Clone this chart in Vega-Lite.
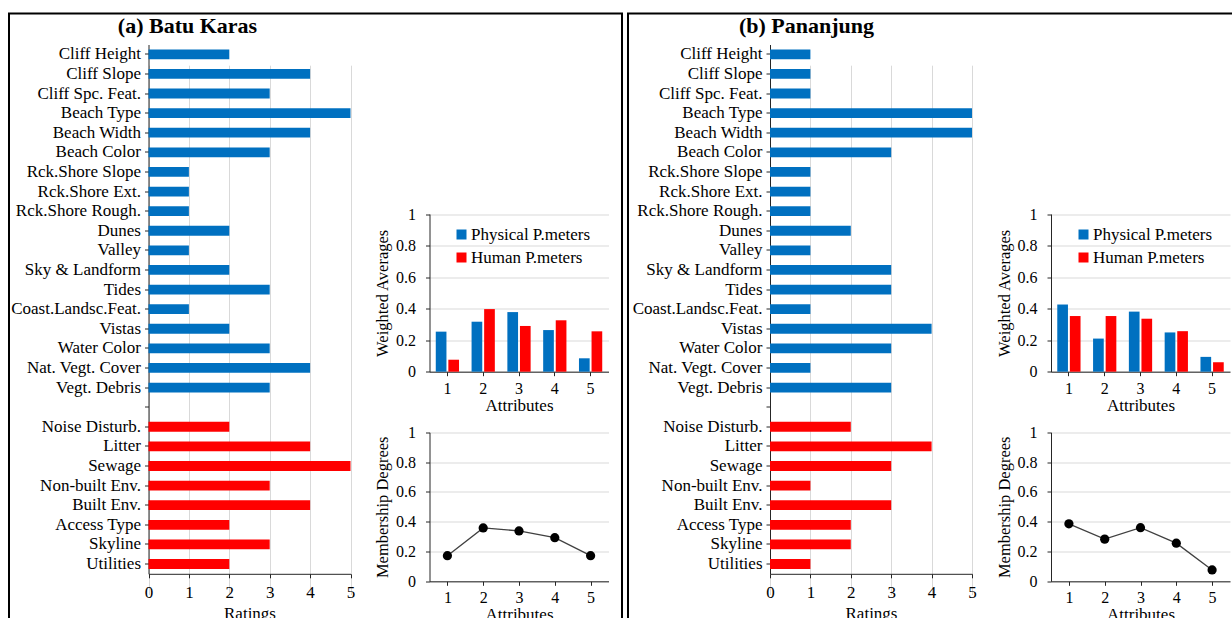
{
  "$schema": "https://vega.github.io/schema/vega-lite/v6.json",
  "background": "white",
  "padding": {"left": 8, "top": 12.5, "right": -10, "bottom": -9},
  "spacing": 4,
  "config": {
    "font": "Liberation Serif",
    "axis": {
      "labelFont": "Liberation Serif",
      "titleFont": "Liberation Serif",
      "labelColor": "#000000",
      "titleColor": "#000000",
      "titleFontWeight": "normal",
      "domainColor": "#262626",
      "tickColor": "#262626",
      "gridColor": "#d9d9d9",
      "tickSize": 4,
      "labelFlush": false,
      "labelOverlap": false
    },
    "legend": {"labelFont": "Liberation Serif"}
  },
  "datasets": {
    "ratings_a": [
      {"parameter": "Cliff Height", "group": "Physical P.meters", "rating": 2},
      {"parameter": "Cliff Slope", "group": "Physical P.meters", "rating": 4},
      {"parameter": "Cliff Spc. Feat.", "group": "Physical P.meters", "rating": 3},
      {"parameter": "Beach Type", "group": "Physical P.meters", "rating": 5},
      {"parameter": "Beach Width", "group": "Physical P.meters", "rating": 4},
      {"parameter": "Beach Color", "group": "Physical P.meters", "rating": 3},
      {"parameter": "Rck.Shore Slope", "group": "Physical P.meters", "rating": 1},
      {"parameter": "Rck.Shore Ext.", "group": "Physical P.meters", "rating": 1},
      {"parameter": "Rck.Shore Rough.", "group": "Physical P.meters", "rating": 1},
      {"parameter": "Dunes", "group": "Physical P.meters", "rating": 2},
      {"parameter": "Valley", "group": "Physical P.meters", "rating": 1},
      {"parameter": "Sky & Landform", "group": "Physical P.meters", "rating": 2},
      {"parameter": "Tides", "group": "Physical P.meters", "rating": 3},
      {"parameter": "Coast.Landsc.Feat.", "group": "Physical P.meters", "rating": 1},
      {"parameter": "Vistas", "group": "Physical P.meters", "rating": 2},
      {"parameter": "Water Color", "group": "Physical P.meters", "rating": 3},
      {"parameter": "Nat. Vegt. Cover", "group": "Physical P.meters", "rating": 4},
      {"parameter": "Vegt. Debris", "group": "Physical P.meters", "rating": 3},
      {"parameter": "Noise Disturb.", "group": "Human P.meters", "rating": 2},
      {"parameter": "Litter", "group": "Human P.meters", "rating": 4},
      {"parameter": "Sewage", "group": "Human P.meters", "rating": 5},
      {"parameter": "Non-built Env.", "group": "Human P.meters", "rating": 3},
      {"parameter": "Built Env.", "group": "Human P.meters", "rating": 4},
      {"parameter": "Access Type", "group": "Human P.meters", "rating": 2},
      {"parameter": "Skyline", "group": "Human P.meters", "rating": 3},
      {"parameter": "Utilities", "group": "Human P.meters", "rating": 2}
    ],
    "ratings_b": [
      {"parameter": "Cliff Height", "group": "Physical P.meters", "rating": 1},
      {"parameter": "Cliff Slope", "group": "Physical P.meters", "rating": 1},
      {"parameter": "Cliff Spc. Feat.", "group": "Physical P.meters", "rating": 1},
      {"parameter": "Beach Type", "group": "Physical P.meters", "rating": 5},
      {"parameter": "Beach Width", "group": "Physical P.meters", "rating": 5},
      {"parameter": "Beach Color", "group": "Physical P.meters", "rating": 3},
      {"parameter": "Rck.Shore Slope", "group": "Physical P.meters", "rating": 1},
      {"parameter": "Rck.Shore Ext.", "group": "Physical P.meters", "rating": 1},
      {"parameter": "Rck.Shore Rough.", "group": "Physical P.meters", "rating": 1},
      {"parameter": "Dunes", "group": "Physical P.meters", "rating": 2},
      {"parameter": "Valley", "group": "Physical P.meters", "rating": 1},
      {"parameter": "Sky & Landform", "group": "Physical P.meters", "rating": 3},
      {"parameter": "Tides", "group": "Physical P.meters", "rating": 3},
      {"parameter": "Coast.Landsc.Feat.", "group": "Physical P.meters", "rating": 1},
      {"parameter": "Vistas", "group": "Physical P.meters", "rating": 4},
      {"parameter": "Water Color", "group": "Physical P.meters", "rating": 3},
      {"parameter": "Nat. Vegt. Cover", "group": "Physical P.meters", "rating": 1},
      {"parameter": "Vegt. Debris", "group": "Physical P.meters", "rating": 3},
      {"parameter": "Noise Disturb.", "group": "Human P.meters", "rating": 2},
      {"parameter": "Litter", "group": "Human P.meters", "rating": 4},
      {"parameter": "Sewage", "group": "Human P.meters", "rating": 3},
      {"parameter": "Non-built Env.", "group": "Human P.meters", "rating": 1},
      {"parameter": "Built Env.", "group": "Human P.meters", "rating": 3},
      {"parameter": "Access Type", "group": "Human P.meters", "rating": 2},
      {"parameter": "Skyline", "group": "Human P.meters", "rating": 2},
      {"parameter": "Utilities", "group": "Human P.meters", "rating": 1}
    ],
    "weights_a": [
      {"attribute": 1, "group": "Physical P.meters", "value": 0.254},
      {"attribute": 1, "group": "Human P.meters", "value": 0.076},
      {"attribute": 2, "group": "Physical P.meters", "value": 0.317},
      {"attribute": 2, "group": "Human P.meters", "value": 0.397},
      {"attribute": 3, "group": "Physical P.meters", "value": 0.378},
      {"attribute": 3, "group": "Human P.meters", "value": 0.29},
      {"attribute": 4, "group": "Physical P.meters", "value": 0.264},
      {"attribute": 4, "group": "Human P.meters", "value": 0.326},
      {"attribute": 5, "group": "Physical P.meters", "value": 0.085},
      {"attribute": 5, "group": "Human P.meters", "value": 0.256}
    ],
    "weights_b": [
      {"attribute": 1, "group": "Physical P.meters", "value": 0.426},
      {"attribute": 1, "group": "Human P.meters", "value": 0.353},
      {"attribute": 2, "group": "Physical P.meters", "value": 0.21},
      {"attribute": 2, "group": "Human P.meters", "value": 0.353},
      {"attribute": 3, "group": "Physical P.meters", "value": 0.381},
      {"attribute": 3, "group": "Human P.meters", "value": 0.336},
      {"attribute": 4, "group": "Physical P.meters", "value": 0.249},
      {"attribute": 4, "group": "Human P.meters", "value": 0.257},
      {"attribute": 5, "group": "Physical P.meters", "value": 0.094},
      {"attribute": 5, "group": "Human P.meters", "value": 0.06}
    ],
    "membership_a": [
      {"attribute": 1, "degree": 0.172},
      {"attribute": 2, "degree": 0.358},
      {"attribute": 3, "degree": 0.338},
      {"attribute": 4, "degree": 0.293},
      {"attribute": 5, "degree": 0.172}
    ],
    "membership_b": [
      {"attribute": 1, "degree": 0.386},
      {"attribute": 2, "degree": 0.283},
      {"attribute": 3, "degree": 0.36},
      {"attribute": 4, "degree": 0.256},
      {"attribute": 5, "degree": 0.076}
    ]
  },
  "resolve": {"scale": {"color": "independent"}, "legend": {"color": "independent"}},
  "hconcat": [
    {
      "width": 613,
      "height": 612,
      "view": {"stroke": "#000000", "strokeWidth": 2},
      "title": {"text": "(a) Batu Karas", "anchor": "start", "frame": "group", "align": "center", "baseline": "middle", "dx": 178.5, "offset": -34, "font": "Liberation Serif", "fontSize": 22, "fontWeight": "bold", "color": "#000000"},
      "resolve": {"scale": {"x": "independent", "y": "independent"}, "axis": {"x": "independent", "y": "independent"}},
      "layer": [
        {
          "layer": [
            {"mark": {"type": "rule", "color": "#d9d9d9", "strokeWidth": 1.3},
             "encoding": {"x": {"datum": 0, "type": "quantitative", "scale": {"domain": [0, 1], "range": [356.8, 613]}, "axis": null}}},
            {"mark": {"type": "rule", "color": "#d9d9d9", "strokeWidth": 1.3},
             "encoding": {"x": {"datum": 0, "type": "quantitative", "axis": null}, "x2": {"datum": 1},
                          "y": {"datum": 0.3064, "type": "quantitative", "scale": {"domain": [0, 1], "range": [0, 612]}, "axis": null}}},
            {"mark": {"type": "rule", "color": "#d9d9d9", "strokeWidth": 1.3},
             "encoding": {"x": {"datum": 0, "type": "quantitative", "axis": null}, "x2": {"datum": 1},
                          "y": {"datum": 0.6598, "type": "quantitative", "axis": null}}}
          ]
        },
        {
          "data": {"name": "ratings_a"},
          "mark": {"type": "bar"},
          "encoding": {
            "y": {"field": "parameter", "type": "nominal",
                  "scale": {"type": "band", "domain": ["Cliff Height", "Cliff Slope", "Cliff Spc. Feat.", "Beach Type", "Beach Width", "Beach Color", "Rck.Shore Slope", "Rck.Shore Ext.", "Rck.Shore Rough.", "Dunes", "Valley", "Sky & Landform", "Tides", "Coast.Landsc.Feat.", "Vistas", "Water Color", "Nat. Vegt. Cover", "Vegt. Debris", " ", "Noise Disturb.", "Litter", "Sewage", "Non-built Env.", "Built Env.", "Access Type", "Skyline", "Utilities"],
                            "range": [31, 560.3], "paddingInner": 0.5, "paddingOuter": 0.25},
                  "axis": {"orient": "left", "offset": -139.5, "title": null, "labelFontSize": 17, "labelPadding": 4, "grid": false, "labelLimit": 300}},
            "x": {"field": "rating", "type": "quantitative",
                  "scale": {"domain": [0, 5], "range": [139.5, 341.5], "nice": false},
                  "axis": {"orient": "bottom", "offset": -51.7, "values": [0, 1, 2, 3, 4, 5], "format": "d", "title": "Ratings", "labelFontSize": 17, "titleFontSize": 17, "labelPadding": 7, "titlePadding": 5, "grid": true}},
            "color": {"field": "group", "type": "nominal",
                      "scale": {"domain": ["Physical P.meters", "Human P.meters"], "range": ["#0070C0", "#FF0000"]},
                      "legend": {"orient": "none", "legendX": 444, "legendY": 212.5, "title": null, "symbolType": "square", "symbolSize": 100, "symbolStrokeWidth": 0, "labelFontSize": 17, "labelColor": "#000000", "labelOffset": 1, "rowPadding": 5, "padding": 0, "labelLimit": 300}}
          }
        },
        {
          "data": {"name": "weights_a"},
          "mark": {"type": "bar"},
          "encoding": {
            "x": {"field": "attribute", "type": "ordinal",
                  "scale": {"type": "band", "range": [420.5, 599.5], "paddingInner": 0.35, "paddingOuter": 0.175},
                  "axis": {"orient": "bottom", "offset": -253.8, "title": "Attributes", "labelAngle": 0, "labelFontSize": 16, "titleFontSize": 17, "labelPadding": 5, "titlePadding": 1}},
            "xOffset": {"field": "group", "type": "nominal", "scale": {"domain": ["Physical P.meters", "Human P.meters"], "paddingInner": 0.15}},
            "y": {"field": "value", "type": "quantitative",
                  "scale": {"domain": [0, 1], "range": [358.2, 200.5], "nice": false},
                  "axis": {"orient": "left", "offset": -420.5, "values": [0, 0.2, 0.4, 0.6, 0.8, 1], "format": "~g", "title": "Weighted  Averages", "labelFontSize": 16, "titleFontSize": 16.5, "labelPadding": 10, "titlePadding": 5, "grid": true}},
            "color": {"field": "group", "type": "nominal",
                      "scale": {"domain": ["Physical P.meters", "Human P.meters"], "range": ["#0070C0", "#FF0000"]},
                      "legend": {"orient": "none", "legendX": 444, "legendY": 212.5, "title": null, "symbolType": "square", "symbolSize": 100, "symbolStrokeWidth": 0, "labelFontSize": 17, "labelColor": "#000000", "labelOffset": 1, "rowPadding": 5, "padding": 0, "labelLimit": 300}}
          }
        },
        {
          "data": {"name": "membership_a"},
          "encoding": {
            "x": {"field": "attribute", "type": "ordinal",
                  "scale": {"type": "point", "range": [420.5, 599.5], "padding": 0.5},
                  "axis": {"orient": "bottom", "offset": -44.2, "title": "Attributes", "labelAngle": 0, "labelFontSize": 16, "titleFontSize": 17, "labelPadding": 4, "titlePadding": 1}},
            "y": {"field": "degree", "type": "quantitative",
                  "scale": {"domain": [0, 1], "range": [567.8, 418.8], "nice": false},
                  "axis": {"orient": "left", "offset": -420.5, "values": [0, 0.2, 0.4, 0.6, 0.8, 1], "format": "~g", "title": "Membership Degrees", "labelFontSize": 16, "titleFontSize": 16.5, "labelPadding": 10, "titlePadding": 5, "grid": true}}
          },
          "layer": [
            {"mark": {"type": "line", "color": "#404040", "strokeWidth": 1.3}},
            {"mark": {"type": "point", "filled": true, "color": "#000000", "opacity": 1, "size": 85}}
          ]
        }
      ]
    },
    {
      "width": 613,
      "height": 612,
      "view": {"stroke": "#000000", "strokeWidth": 2},
      "title": {"text": "(b) Pananjung", "anchor": "start", "frame": "group", "align": "center", "baseline": "middle", "dx": 178.5, "offset": -34, "font": "Liberation Serif", "fontSize": 22, "fontWeight": "bold", "color": "#000000"},
      "resolve": {"scale": {"x": "independent", "y": "independent"}, "axis": {"x": "independent", "y": "independent"}},
      "layer": [
        {
          "layer": [
            {"mark": {"type": "rule", "color": "#d9d9d9", "strokeWidth": 1.3},
             "encoding": {"x": {"datum": 0, "type": "quantitative", "scale": {"domain": [0, 1], "range": [360.9, 613]}, "axis": null}}},
            {"mark": {"type": "rule", "color": "#d9d9d9", "strokeWidth": 1.3},
             "encoding": {"x": {"datum": 0, "type": "quantitative", "axis": null}, "x2": {"datum": 1},
                          "y": {"datum": 0.3064, "type": "quantitative", "scale": {"domain": [0, 1], "range": [0, 612]}, "axis": null}}},
            {"mark": {"type": "rule", "color": "#d9d9d9", "strokeWidth": 1.3},
             "encoding": {"x": {"datum": 0, "type": "quantitative", "axis": null}, "x2": {"datum": 1},
                          "y": {"datum": 0.6598, "type": "quantitative", "axis": null}}}
          ]
        },
        {
          "data": {"name": "ratings_b"},
          "mark": {"type": "bar"},
          "encoding": {
            "y": {"field": "parameter", "type": "nominal",
                  "scale": {"type": "band", "domain": ["Cliff Height", "Cliff Slope", "Cliff Spc. Feat.", "Beach Type", "Beach Width", "Beach Color", "Rck.Shore Slope", "Rck.Shore Ext.", "Rck.Shore Rough.", "Dunes", "Valley", "Sky & Landform", "Tides", "Coast.Landsc.Feat.", "Vistas", "Water Color", "Nat. Vegt. Cover", "Vegt. Debris", " ", "Noise Disturb.", "Litter", "Sewage", "Non-built Env.", "Built Env.", "Access Type", "Skyline", "Utilities"],
                            "range": [31, 560.3], "paddingInner": 0.5, "paddingOuter": 0.25},
                  "axis": {"orient": "left", "offset": -142, "title": null, "labelFontSize": 17, "labelPadding": 4, "grid": false, "labelLimit": 300}},
            "x": {"field": "rating", "type": "quantitative",
                  "scale": {"domain": [0, 5], "range": [142, 344], "nice": false},
                  "axis": {"orient": "bottom", "offset": -51.7, "values": [0, 1, 2, 3, 4, 5], "format": "d", "title": "Ratings", "labelFontSize": 17, "titleFontSize": 17, "labelPadding": 7, "titlePadding": 5, "grid": true}},
            "color": {"field": "group", "type": "nominal",
                      "scale": {"domain": ["Physical P.meters", "Human P.meters"], "range": ["#0070C0", "#FF0000"]},
                      "legend": {"orient": "none", "legendX": 447, "legendY": 212.5, "title": null, "symbolType": "square", "symbolSize": 100, "symbolStrokeWidth": 0, "labelFontSize": 17, "labelColor": "#000000", "labelOffset": 1, "rowPadding": 5, "padding": 0, "labelLimit": 300}}
          }
        },
        {
          "data": {"name": "weights_b"},
          "mark": {"type": "bar"},
          "encoding": {
            "x": {"field": "attribute", "type": "ordinal",
                  "scale": {"type": "band", "range": [423, 602], "paddingInner": 0.35, "paddingOuter": 0.175},
                  "axis": {"orient": "bottom", "offset": -253.8, "title": "Attributes", "labelAngle": 0, "labelFontSize": 16, "titleFontSize": 17, "labelPadding": 5, "titlePadding": 1}},
            "xOffset": {"field": "group", "type": "nominal", "scale": {"domain": ["Physical P.meters", "Human P.meters"], "paddingInner": 0.15}},
            "y": {"field": "value", "type": "quantitative",
                  "scale": {"domain": [0, 1], "range": [358.2, 200.5], "nice": false},
                  "axis": {"orient": "left", "offset": -423, "values": [0, 0.2, 0.4, 0.6, 0.8, 1], "format": "~g", "title": "Weighted  Averages", "labelFontSize": 16, "titleFontSize": 16.5, "labelPadding": 10, "titlePadding": 5, "grid": true}},
            "color": {"field": "group", "type": "nominal",
                      "scale": {"domain": ["Physical P.meters", "Human P.meters"], "range": ["#0070C0", "#FF0000"]},
                      "legend": {"orient": "none", "legendX": 447, "legendY": 212.5, "title": null, "symbolType": "square", "symbolSize": 100, "symbolStrokeWidth": 0, "labelFontSize": 17, "labelColor": "#000000", "labelOffset": 1, "rowPadding": 5, "padding": 0, "labelLimit": 300}}
          }
        },
        {
          "data": {"name": "membership_b"},
          "encoding": {
            "x": {"field": "attribute", "type": "ordinal",
                  "scale": {"type": "point", "range": [423, 602], "padding": 0.5},
                  "axis": {"orient": "bottom", "offset": -44.2, "title": "Attributes", "labelAngle": 0, "labelFontSize": 16, "titleFontSize": 17, "labelPadding": 4, "titlePadding": 1}},
            "y": {"field": "degree", "type": "quantitative",
                  "scale": {"domain": [0, 1], "range": [567.8, 418.8], "nice": false},
                  "axis": {"orient": "left", "offset": -423, "values": [0, 0.2, 0.4, 0.6, 0.8, 1], "format": "~g", "title": "Membership Degrees", "labelFontSize": 16, "titleFontSize": 16.5, "labelPadding": 10, "titlePadding": 5, "grid": true}}
          },
          "layer": [
            {"mark": {"type": "line", "color": "#404040", "strokeWidth": 1.3}},
            {"mark": {"type": "point", "filled": true, "color": "#000000", "opacity": 1, "size": 85}}
          ]
        }
      ]
    }
  ]
}
